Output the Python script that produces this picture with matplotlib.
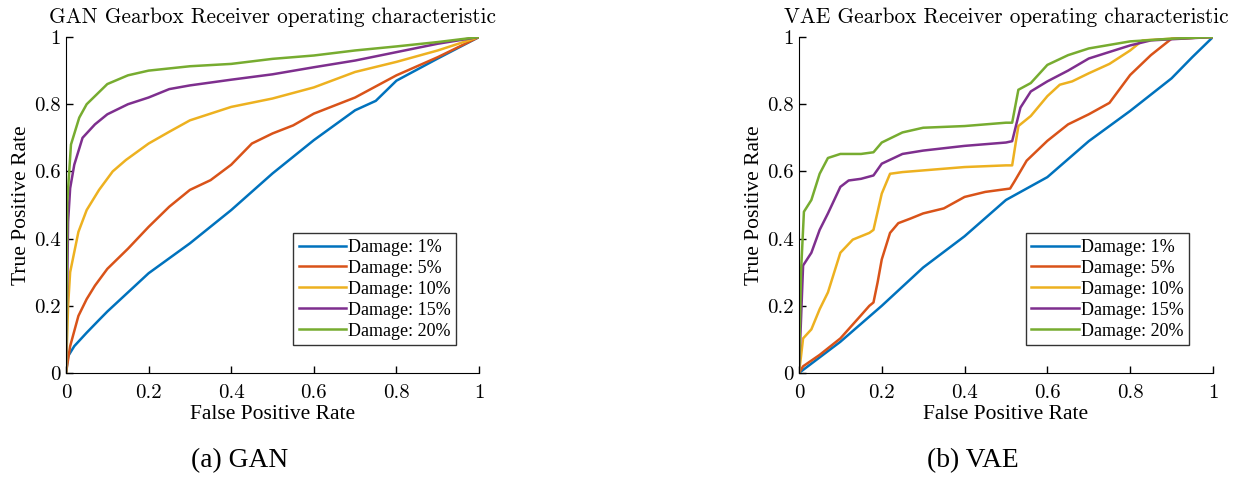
import numpy as np
import matplotlib.pyplot as plt

plt.rcParams['font.family'] = ['Liberation Serif', 'DejaVu Serif']

labels = ['Damage: 1%', 'Damage: 5%', 'Damage: 10%', 'Damage: 15%', 'Damage: 20%']
colors = ['#0072BD', '#D95319', '#EDB120', '#7E2F8E', '#77AC30']

# GAN ROC curves
gan_fpr = [
    [0, 0.005, 0.02, 0.05, 0.08, 0.1, 0.2, 0.3, 0.4, 0.5, 0.6, 0.7, 0.75, 0.8, 0.9, 1.0],
    [0, 0.01, 0.03, 0.05, 0.07, 0.1, 0.15, 0.2, 0.25, 0.3, 0.35, 0.4, 0.45, 0.5, 0.55, 0.6, 0.7, 0.8, 0.9, 1.0],
    [0, 0.005, 0.01, 0.03, 0.05, 0.08, 0.113, 0.145, 0.2, 0.25, 0.3, 0.4, 0.5, 0.6, 0.7, 0.8, 0.9, 1.0],
    [0, 0.005, 0.01, 0.02, 0.04, 0.07, 0.1, 0.15, 0.2, 0.25, 0.3, 0.4, 0.5, 0.6, 0.7, 0.8, 0.9, 1.0],
    [0, 0.003, 0.012, 0.032, 0.05, 0.1, 0.15, 0.2, 0.3, 0.4, 0.5, 0.6, 0.7, 0.8, 0.9, 1.0],
]
gan_tpr = [
    [0, 0.05, 0.08, 0.12, 0.158, 0.183, 0.297, 0.386, 0.485, 0.594, 0.693, 0.782, 0.81, 0.87, 0.936, 1.0],
    [0, 0.08, 0.17, 0.22, 0.26, 0.31, 0.37, 0.435, 0.495, 0.545, 0.574, 0.62, 0.683, 0.713, 0.737, 0.772, 0.82, 0.886, 0.94, 1.0],
    [0, 0.2, 0.3, 0.42, 0.485, 0.545, 0.60, 0.634, 0.683, 0.718, 0.752, 0.792, 0.817, 0.85, 0.896, 0.926, 0.96, 1.0],
    [0, 0.45, 0.55, 0.62, 0.70, 0.74, 0.77, 0.80, 0.82, 0.845, 0.856, 0.873, 0.889, 0.91, 0.93, 0.955, 0.98, 1.0],
    [0, 0.51, 0.68, 0.76, 0.80, 0.86, 0.886, 0.90, 0.913, 0.92, 0.935, 0.945, 0.96, 0.972, 0.985, 1.0],
]

# VAE ROC curves
vae_fpr = [
    [0, 0.1, 0.2, 0.3, 0.4, 0.5, 0.6, 0.7, 0.8, 0.9, 0.95, 1.0],
    [0, 0.01, 0.05, 0.1, 0.15, 0.17, 0.18, 0.19, 0.2, 0.22, 0.24, 0.27, 0.3, 0.35, 0.4, 0.45, 0.51, 0.52, 0.55,
     0.6, 0.65, 0.7, 0.75, 0.8, 0.85, 0.9, 1.0],
    [0, 0.005, 0.01, 0.03, 0.05, 0.07, 0.1, 0.13, 0.17, 0.18, 0.2, 0.22, 0.25, 0.3, 0.4, 0.5, 0.515, 0.53, 0.56,
     0.6, 0.63, 0.66, 0.7, 0.75, 0.8, 0.83, 0.9, 1.0],
    [0, 0.01, 0.03, 0.05, 0.07, 0.1, 0.12, 0.15, 0.18, 0.2, 0.25, 0.3, 0.4, 0.5, 0.515, 0.535, 0.56, 0.6, 0.65,
     0.7, 0.8, 0.85, 1.0],
    [0, 0.005, 0.012, 0.03, 0.05, 0.07, 0.1, 0.15, 0.18, 0.2, 0.25, 0.3, 0.4, 0.5, 0.515, 0.53, 0.56, 0.6, 0.65,
     0.7, 0.8, 0.9, 1.0],
]
vae_tpr = [
    [0, 0.093, 0.2, 0.314, 0.407, 0.515, 0.583, 0.69, 0.78, 0.877, 0.94, 1.0],
    [0, 0.02, 0.054, 0.103, 0.172, 0.2, 0.21, 0.27, 0.338, 0.417, 0.446, 0.46, 0.475, 0.49, 0.524, 0.539, 0.549,
     0.569, 0.632, 0.691, 0.74, 0.77, 0.804, 0.887, 0.946, 0.995, 1.0],
    [0, 0.05, 0.103, 0.13, 0.19, 0.24, 0.358, 0.397, 0.417, 0.426, 0.534, 0.593, 0.598, 0.603, 0.613, 0.618,
     0.618, 0.735, 0.765, 0.824, 0.858, 0.868, 0.892, 0.92, 0.96, 0.99, 0.995, 1.0],
    [0, 0.32, 0.358, 0.426, 0.475, 0.554, 0.573, 0.578, 0.588, 0.623, 0.652, 0.662, 0.676, 0.686, 0.69, 0.79,
     0.838, 0.868, 0.90, 0.936, 0.975, 0.99, 1.0],
    [0, 0.3, 0.48, 0.515, 0.593, 0.64, 0.652, 0.652, 0.657, 0.686, 0.716, 0.73, 0.735, 0.745, 0.745, 0.843, 0.863,
     0.917, 0.946, 0.966, 0.987, 0.995, 1.0],
]

ticks = [0, 0.2, 0.4, 0.6, 0.8, 1]
tick_labels = ['0', '0.2', '0.4', '0.6', '0.8', '1']


def draw_roc(ax, fpr, tpr, title, leg_x):
    for xs, ys, c, lab in zip(fpr, tpr, colors, labels):
        ax.plot(xs, ys, color=c, lw=1.8, label=lab)
    ax.set_xlim(0, 1)
    ax.set_ylim(0, 1)
    ax.set_xticks(ticks)
    ax.set_xticklabels(tick_labels, fontfamily='cmr10')
    ax.set_yticks(ticks)
    ax.set_yticklabels(tick_labels, fontfamily='cmr10')
    ax.tick_params(direction='in', length=5, labelsize=15, width=1, pad=4)
    ax.tick_params(axis='x', pad=8)
    ax.spines['top'].set_visible(False)
    ax.spines['right'].set_visible(False)
    ax.set_title(title, fontsize=15.3, pad=10, fontfamily='cmr10')
    ax.set_xlabel('False Positive Rate', fontsize=15.5, labelpad=2)
    ax.set_ylabel('True Positive Rate', fontsize=15.5, labelpad=2)
    leg = ax.legend(loc='lower left', bbox_to_anchor=(leg_x, 0.083), fontsize=13, frameon=True,
                    fancybox=False, edgecolor='black', handlelength=2.65, handletextpad=0.1,
                    borderpad=0.3, labelspacing=0.22, borderaxespad=0)
    leg.get_frame().set_linewidth(1.0)


fig = plt.figure(figsize=(12.41, 4.82), dpi=100)
ax1 = fig.add_axes([0.0532, 0.2261, 0.3328, 0.6971])
ax2 = fig.add_axes([0.6438, 0.2261, 0.3336, 0.6971])

draw_roc(ax1, gan_fpr, gan_tpr, 'GAN Gearbox Receiver operating characteristic', 0.55)
draw_roc(ax2, vae_fpr, vae_tpr, 'VAE Gearbox Receiver operating characteristic', 0.548)

fig.text(240 / 1241, 1 - 461 / 482, '(a) GAN', ha='center', va='center', fontsize=19.8)
fig.text(973 / 1241, 1 - 461 / 482, '(b) VAE', ha='center', va='center', fontsize=19.8)

fig.savefig('out.png', dpi=100)
